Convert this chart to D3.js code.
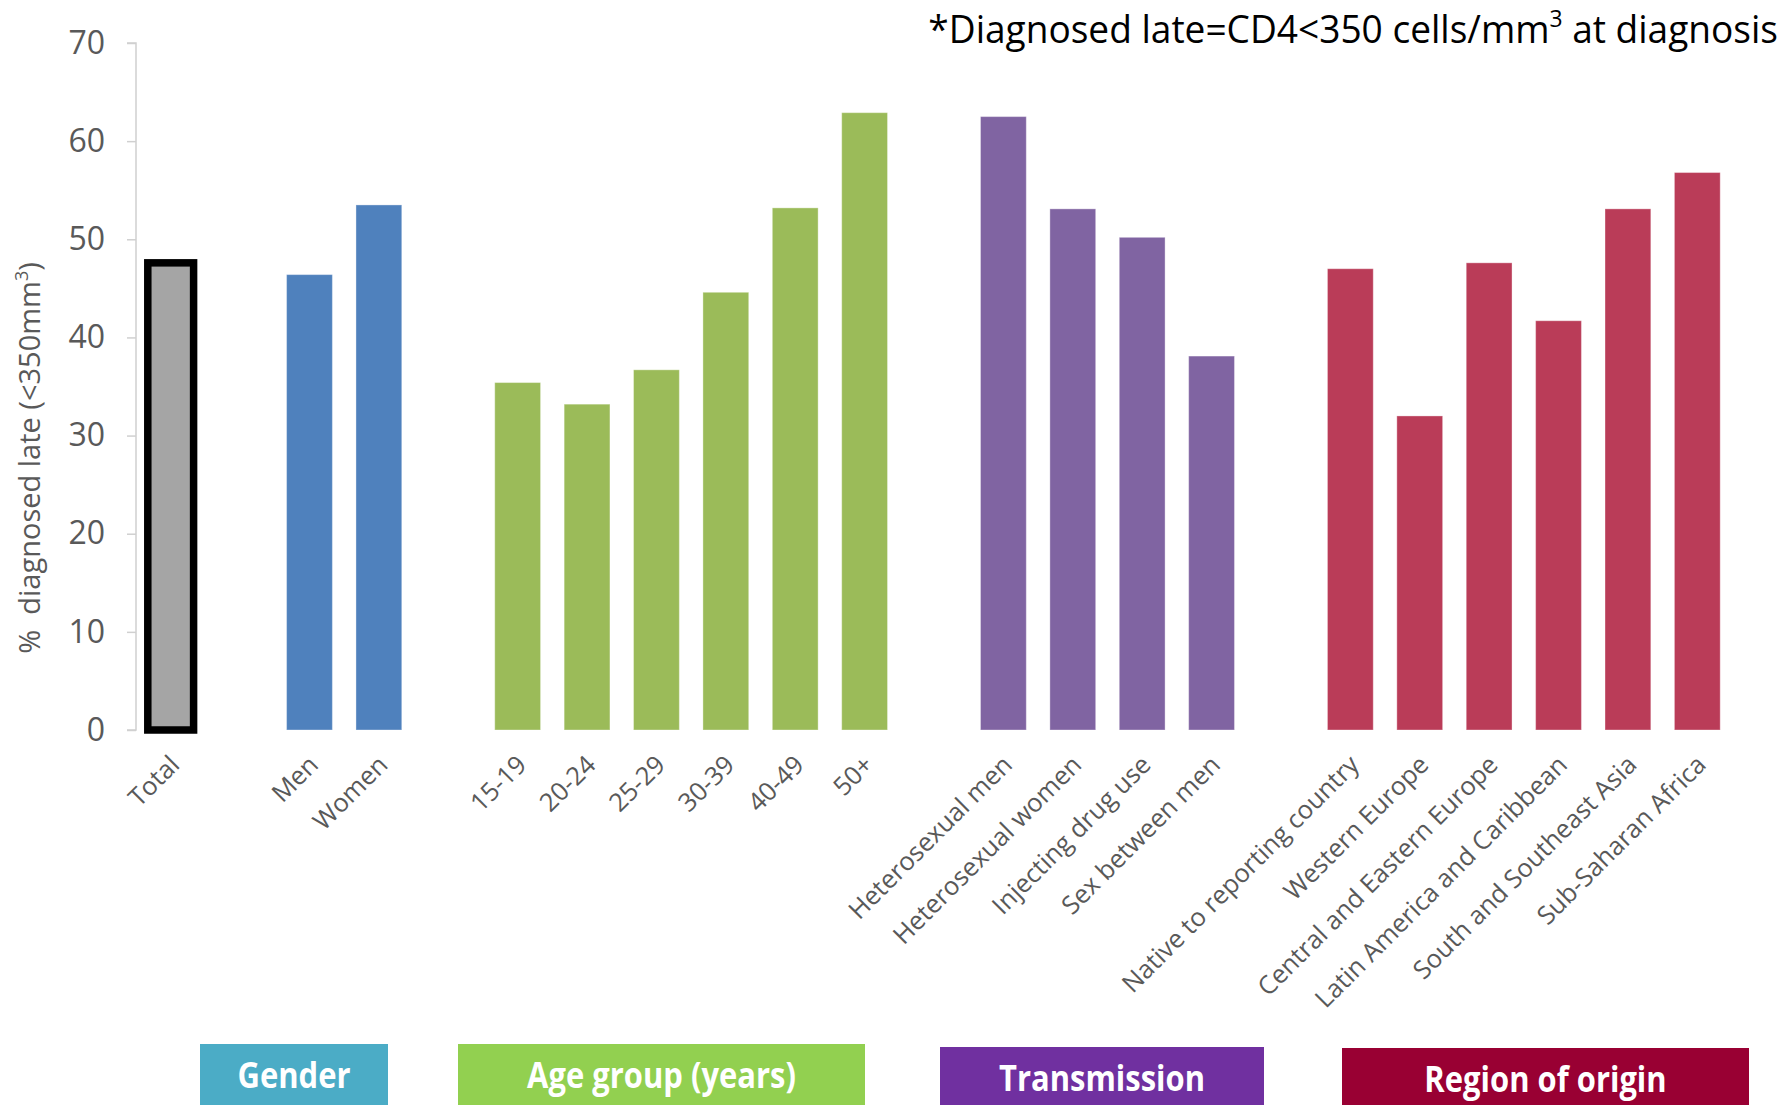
<!DOCTYPE html>
<html>
<head>
<meta charset="utf-8">
<script src="https://cdn.jsdelivr.net/npm/d3@7"></script>
<style>
  html, body { margin: 0; padding: 0; background: #ffffff; }
  svg { display: block; }
</style>
</head>
<body>
<svg id="chart" width="1785" height="1105"></svg>
<script>
// Late HIV diagnosis (CD4 < 350 cells/mm3) by population group, in percent
const totalLabels = ["Total"];
const totalValues = [47.6];

const genderLabels = ["Men", "Women"];
const genderValues = [46.4, 53.5];

const ageLabels = ["15-19", "20-24", "25-29", "30-39", "40-49", "50+"];
const ageValues = [35.4, 33.2, 36.7, 44.6, 53.2, 62.9];

const transmissionLabels = ["Heterosexual men", "Heterosexual women", "Injecting drug use", "Sex between men"];
const transmissionValues = [62.5, 53.1, 50.2, 38.1];

const regionLabels = ["Native to reporting country", "Western Europe", "Central and Eastern Europe",
  "Latin America and Caribbean", "South and Southeast Asia", "Sub-Saharan Africa"];
const regionValues = [47.0, 32.0, 47.6, 41.7, 53.1, 56.8];

const yTicks = [0, 10, 20, 30, 40, 50, 60, 70];

const groupTitles = ["Gender", "Age group (years)", "Transmission", "Region of origin"];

// ---- layout & styling ----
const groups = [
  { labels: totalLabels, values: totalValues, color: "#A5A5A5", total: true },
  { labels: genderLabels, values: genderValues, color: "#4F81BD" },
  { labels: ageLabels, values: ageValues, color: "#9BBB59" },
  { labels: transmissionLabels, values: transmissionValues, color: "#8064A2" },
  { labels: regionLabels, values: regionValues, color: "#BA3C58" }
];

// one band per bar, with an empty band between groups
const slots = [];
const bars = [];
groups.forEach((g, gi) => {
  g.labels.forEach((lab, i) => {
    const key = gi + ":" + lab;
    slots.push(key);
    bars.push({ key, label: lab, value: g.values[i], color: g.color, total: !!g.total });
  });
  if (gi < groups.length - 1) slots.push("gap" + gi);
});

const svg = d3.select("#chart");
const axisX = 136, plotRight = 1732, y0 = 730, yTop = 43;
const labelFont = "'Open Sans', sans-serif";

const x = d3.scaleBand().domain(slots).range([axisX, plotRight]).paddingInner(0.34).paddingOuter(0.17);
const y = d3.scaleLinear().domain([0, 70]).range([y0, yTop]);

// y axis
const yAxis = svg.append("g")
  .attr("transform", `translate(${axisX},0)`)
  .call(d3.axisLeft(y).tickValues(yTicks).tickSize(9).tickPadding(22));
yAxis.select(".domain").attr("stroke", "#D0D0D0").attr("stroke-width", 1.5)
  .attr("d", `M-9,${y(70)}H0V${y(0)}H-9`);
yAxis.selectAll(".tick line").attr("stroke", "#D0D0D0").attr("stroke-width", 1.5);
yAxis.selectAll(".tick text")
  .attr("fill", "#595959")
  .style("font-family", labelFont)
  .style("font-size", "32px");

// y axis title
const yTitle = svg.append("text")
  .attr("transform", `translate(40,458) rotate(-90)`)
  .attr("text-anchor", "middle")
  .attr("fill", "#595959")
  .style("font-family", labelFont)
  .style("font-size", "29px")
  .style("white-space", "pre");
yTitle.append("tspan").text("%  diagnosed late (<350mm");
yTitle.append("tspan").attr("dy", -12).style("font-size", "18px").text("3");
yTitle.append("tspan").attr("dy", 12).text(")");

// bars
svg.append("g").selectAll("rect")
  .data(bars)
  .join("rect")
  .attr("x", d => x(d.key))
  .attr("width", x.bandwidth())
  .attr("y", d => y(d.value))
  .attr("height", d => y(0) - y(d.value))
  .attr("fill", d => d.color)
  .attr("stroke", d => d.total ? "#000000" : "rgba(255,255,255,0.35)")
  .attr("stroke-width", d => d.total ? 7.5 : 1);

// category labels, rotated
svg.append("g").selectAll("text")
  .data(bars)
  .join("text")
  .attr("transform", d => `translate(${x(d.key) + x.bandwidth() / 2 + 4},${y0 + 30}) rotate(-45)`)
  .attr("text-anchor", "end")
  .attr("dy", "0.35em")
  .attr("fill", "#595959")
  .style("font-family", labelFont)
  .style("font-size", "25.5px")
  .text(d => d.label);

// note at top right, horizontally condensed to its slot
const noteG = svg.append("g").attr("transform", "translate(1778,43)");
const note = noteG.append("text")
  .attr("text-anchor", "end")
  .attr("fill", "#000000")
  .style("font-family", labelFont)
  .style("font-size", "39px");
note.append("tspan").text("*Diagnosed late=CD4<350 cells/mm");
note.append("tspan").attr("dy", -16).style("font-size", "24px").text("3");
note.append("tspan").attr("dy", 16).text(" at diagnosis");
const noteW = note.node().getBBox().width;
note.attr("transform", `scale(${850 / noteW},1)`);

// group title boxes along the bottom
const boxes = [
  { x: 200, y: 1044, w: 188, h: 61, color: "#4BACC6" },
  { x: 458, y: 1044, w: 407, h: 61, color: "#92D050" },
  { x: 940, y: 1047, w: 324, h: 58, color: "#7030A0" },
  { x: 1342, y: 1048, w: 407, h: 57, color: "#990033" }
];
const boxG = svg.append("g").selectAll("g")
  .data(boxes.map((b, i) => Object.assign({ title: groupTitles[i] }, b)))
  .join("g")
  .attr("transform", d => `translate(${d.x},${d.y})`);
boxG.append("rect")
  .attr("width", d => d.w).attr("height", d => d.h)
  .attr("fill", d => d.color);
boxG.append("text")
  .attr("transform", d => `translate(${d.w / 2},44) scale(0.86,1)`)
  .attr("text-anchor", "middle")
  .attr("fill", "#ffffff")
  .style("font-family", labelFont)
  .style("font-weight", "bold")
  .style("font-size", "36px")
  .text(d => d.title);
</script>
</body>
</html>
